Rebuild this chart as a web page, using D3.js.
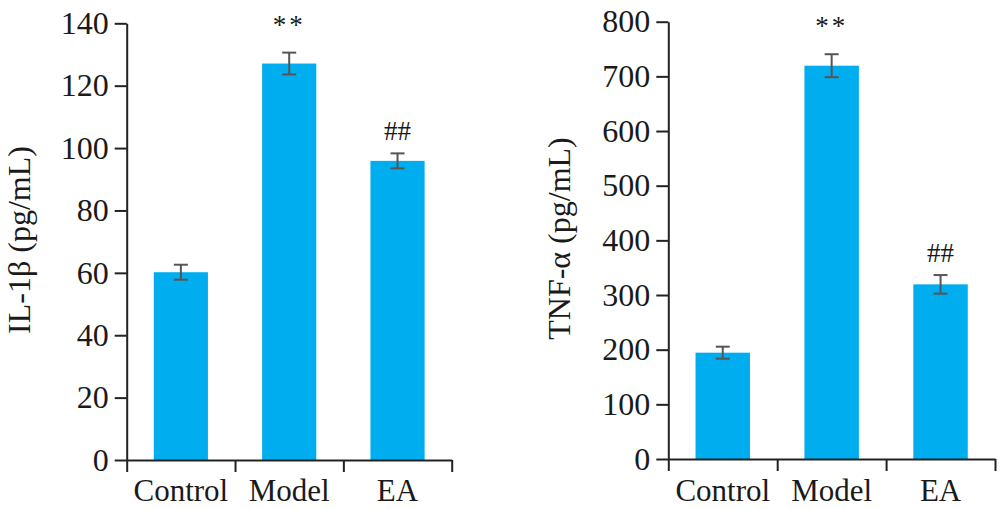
<!DOCTYPE html>
<html>
<head>
<meta charset="utf-8">
<script src="https://cdn.jsdelivr.net/npm/d3@7"></script>
<style>
  html, body { margin: 0; padding: 0; background: #fff; }
  svg { display: block; }
  text { font-family: "Liberation Serif", "Times New Roman", serif; fill: #1a1a1a; }
</style>
</head>
<body>
<svg id="chart" width="1007" height="509"></svg>
<script>
// ---- data ----
const categories = ["Control", "Model", "EA"];

const il1bValues = [60.2, 127.1, 95.9];
const il1bErrors = [2.4, 3.5, 2.4];
const il1bMarks  = ["", "**", "##"];
const il1bTicks  = [0, 20, 40, 60, 80, 100, 120, 140];

const tnfValues = [194.5, 719.5, 319.5];
const tnfErrors = [11, 21, 17];
const tnfMarks  = ["", "**", "##"];
const tnfTicks  = [0, 100, 200, 300, 400, 500, 600, 700, 800];

const panels = [
  { label: "IL-1β (pg/mL)", values: il1bValues, errors: il1bErrors, marks: il1bMarks, ticks: il1bTicks,
    x0: 126.7, x1: 451.7, y0: 460, y1: 23.3, labelX: 30, labelY: 240 },
  { label: "TNF-α (pg/mL)", values: tnfValues, errors: tnfErrors, marks: tnfMarks, ticks: tnfTicks,
    x0: 668.3, x1: 995, y0: 459, y1: 21.7, labelX: 570, labelY: 238.5 }
];

const svg = d3.select("#chart");
const axisColor = "#222";

panels.forEach(p => {
  const g = svg.append("g");
  const x = d3.scaleBand().domain(categories).range([p.x0, p.x1]).paddingInner(0.5).paddingOuter(0.25);
  const y = d3.scaleLinear().domain([0, d3.max(p.ticks)]).range([p.y0, p.y1]);

  // bars
  g.selectAll("rect.bar").data(categories).join("rect")
    .attr("class", "bar")
    .attr("x", d => x(d))
    .attr("width", x.bandwidth())
    .attr("y", (d, i) => y(p.values[i]))
    .attr("height", (d, i) => y(0) - y(p.values[i]))
    .attr("fill", "#00AEEF");

  // error bars
  const eb = g.selectAll("g.err").data(categories).join("g").attr("class", "err")
    .attr("stroke", "#555").attr("stroke-width", 2);
  eb.append("line")
    .attr("x1", d => x(d) + x.bandwidth() / 2).attr("x2", d => x(d) + x.bandwidth() / 2)
    .attr("y1", (d, i) => y(p.values[i] + p.errors[i])).attr("y2", (d, i) => y(p.values[i] - p.errors[i]));
  [1, -1].forEach(s => {
    eb.append("line")
      .attr("x1", d => x(d) + x.bandwidth() / 2 - 7).attr("x2", d => x(d) + x.bandwidth() / 2 + 7)
      .attr("y1", (d, i) => y(p.values[i] + s * p.errors[i])).attr("y2", (d, i) => y(p.values[i] + s * p.errors[i]));
  });

  // significance marks
  g.selectAll("text.mark").data(categories).join("text")
    .attr("class", "mark")
    .attr("x", d => x(d) + x.bandwidth() / 2)
    .attr("y", (d, i) => y(p.values[i] + p.errors[i]) - (p.marks[i] === "**" ? 19 : 13))
    .attr("text-anchor", "middle")
    .attr("font-size", 27)
    .attr("letter-spacing", (d, i) => p.marks[i] === "**" ? 3 : 0)
    .text((d, i) => p.marks[i]);

  // y axis
  const yAxis = g.append("g").attr("transform", `translate(${p.x0},0)`)
    .call(d3.axisLeft(y).tickValues(p.ticks).tickSize(12).tickPadding(6).tickSizeOuter(0));
  yAxis.select(".domain").attr("stroke", axisColor).attr("stroke-width", 2);
  yAxis.selectAll(".tick line").attr("stroke", axisColor).attr("stroke-width", 2);
  yAxis.selectAll(".tick text").attr("font-size", 32).attr("font-family", "Liberation Serif").attr("fill", "#1a1a1a");

  // x axis: ticks at band boundaries
  const bounds = d3.scaleLinear().domain([0, categories.length]).range([p.x0, p.x1]);
  const xAxis = g.append("g").attr("transform", `translate(0,${p.y0})`)
    .call(d3.axisBottom(bounds).ticks(categories.length).tickFormat("").tickSize(12).tickSizeOuter(0));
  xAxis.select(".domain").attr("stroke", axisColor).attr("stroke-width", 2);
  xAxis.selectAll(".tick line").attr("stroke", axisColor).attr("stroke-width", 2);

  // category labels
  g.selectAll("text.cat").data(categories).join("text")
    .attr("class", "cat")
    .attr("x", d => x(d) + x.bandwidth() / 2)
    .attr("y", 501)
    .attr("text-anchor", "middle")
    .attr("font-size", 31)
    .text(d => d);

  // y label
  g.append("text")
    .attr("transform", `translate(${p.labelX},${p.labelY}) rotate(-90)`)
    .attr("text-anchor", "middle")
    .attr("font-size", 32)
    .text(p.label);
});
</script>
</body>
</html>
